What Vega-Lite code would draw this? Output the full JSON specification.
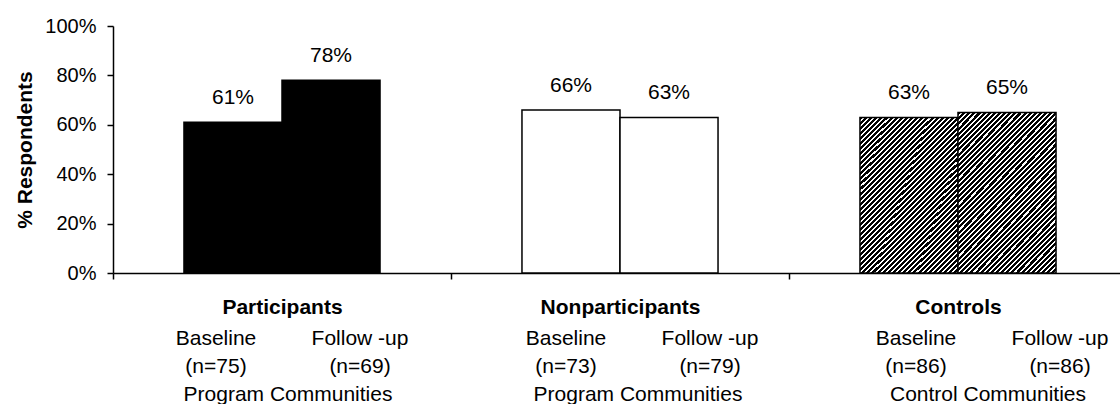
{
  "$schema": "https://vega.github.io/schema/vega-lite/v6.json",
  "autosize": {"type": "pad"},
  "padding": {"left": 14, "top": 16, "right": 0, "bottom": 0},
  "bounds": "flush",
  "spacing": 52,
  "config": {
    "font": "Liberation Sans",
    "view": {"stroke": null},
    "text": {"color": "black", "font": "Liberation Sans"},
    "axis": {
      "domainColor": "black",
      "domainWidth": 1.5,
      "tickColor": "black",
      "tickWidth": 1.5,
      "tickSize": 6,
      "labelColor": "black",
      "labelFont": "Liberation Sans",
      "titleColor": "black",
      "titleFont": "Liberation Sans",
      "grid": false
    }
  },
  "datasets": {
    "survey": [
      {"group": "Participants", "period": "Baseline", "value": 0.61, "n": 75, "community": "Program Communities"},
      {"group": "Participants", "period": "Follow -up", "value": 0.78, "n": 69, "community": "Program Communities"},
      {"group": "Nonparticipants", "period": "Baseline", "value": 0.66, "n": 73, "community": "Program Communities"},
      {"group": "Nonparticipants", "period": "Follow -up", "value": 0.63, "n": 79, "community": "Program Communities"},
      {"group": "Controls", "period": "Baseline", "value": 0.63, "n": 86, "community": "Control Communities"},
      {"group": "Controls", "period": "Follow -up", "value": 0.65, "n": 86, "community": "Control Communities"}
    ]
  },
  "resolve": {"scale": {"x": "independent", "xOffset": "independent"}},
  "vconcat": [
    {
      "width": 1014,
      "height": 247,
      "data": {"name": "survey"},
      "encoding": {
        "x": {
          "field": "group",
          "type": "nominal",
          "sort": ["Participants", "Nonparticipants", "Controls"],
          "scale": {"type": "band", "paddingInner": 0, "paddingOuter": 0},
          "axis": {
            "title": null,
            "labelAngle": 0,
            "labelFontSize": 21,
            "labelFontWeight": "bold",
            "labelPadding": 17,
            "tickBand": "extent"
          }
        },
        "xOffset": {
          "field": "period",
          "type": "nominal",
          "sort": ["Baseline", "Follow -up"],
          "scale": {"type": "band", "paddingInner": 0, "paddingOuter": 0.724}
        },
        "y": {
          "field": "value",
          "type": "quantitative",
          "scale": {"domain": [0, 1]},
          "axis": {
            "title": "% Respondents",
            "titleFontSize": 21,
            "titleFontWeight": "bold",
            "titlePadding": 9,
            "format": ".0%",
            "values": [0, 0.2, 0.4, 0.6, 0.8, 1],
            "labelFontSize": 20,
            "labelPadding": 11
          }
        }
      },
      "layer": [
        {
          "mark": {"type": "bar", "stroke": "black", "strokeWidth": 1.5},
          "encoding": {
            "fill": {
              "condition": [
                {"test": "datum.group === 'Participants'", "value": "black"},
                {"test": "datum.group === 'Nonparticipants'", "value": "white"}
              ],
              "value": {
                "gradient": "linear",
                "x1": 0, "y1": 0, "x2": 0.7256, "y2": 1.17,
                "stops": [
                  {"offset": 0, "color": "#000"}, {"offset": 0.012, "color": "#000"}, {"offset": 0.012, "color": "#fff"}, {"offset": 0.02, "color": "#fff"},
                  {"offset": 0.02, "color": "#000"}, {"offset": 0.032, "color": "#000"}, {"offset": 0.032, "color": "#fff"}, {"offset": 0.04, "color": "#fff"},
                  {"offset": 0.04, "color": "#000"}, {"offset": 0.052, "color": "#000"}, {"offset": 0.052, "color": "#fff"}, {"offset": 0.06, "color": "#fff"},
                  {"offset": 0.06, "color": "#000"}, {"offset": 0.072, "color": "#000"}, {"offset": 0.072, "color": "#fff"}, {"offset": 0.08, "color": "#fff"},
                  {"offset": 0.08, "color": "#000"}, {"offset": 0.092, "color": "#000"}, {"offset": 0.092, "color": "#fff"}, {"offset": 0.1, "color": "#fff"},
                  {"offset": 0.1, "color": "#000"}, {"offset": 0.112, "color": "#000"}, {"offset": 0.112, "color": "#fff"}, {"offset": 0.12, "color": "#fff"},
                  {"offset": 0.12, "color": "#000"}, {"offset": 0.132, "color": "#000"}, {"offset": 0.132, "color": "#fff"}, {"offset": 0.14, "color": "#fff"},
                  {"offset": 0.14, "color": "#000"}, {"offset": 0.152, "color": "#000"}, {"offset": 0.152, "color": "#fff"}, {"offset": 0.16, "color": "#fff"},
                  {"offset": 0.16, "color": "#000"}, {"offset": 0.172, "color": "#000"}, {"offset": 0.172, "color": "#fff"}, {"offset": 0.18, "color": "#fff"},
                  {"offset": 0.18, "color": "#000"}, {"offset": 0.192, "color": "#000"}, {"offset": 0.192, "color": "#fff"}, {"offset": 0.2, "color": "#fff"},
                  {"offset": 0.2, "color": "#000"}, {"offset": 0.212, "color": "#000"}, {"offset": 0.212, "color": "#fff"}, {"offset": 0.22, "color": "#fff"},
                  {"offset": 0.22, "color": "#000"}, {"offset": 0.232, "color": "#000"}, {"offset": 0.232, "color": "#fff"}, {"offset": 0.24, "color": "#fff"},
                  {"offset": 0.24, "color": "#000"}, {"offset": 0.252, "color": "#000"}, {"offset": 0.252, "color": "#fff"}, {"offset": 0.26, "color": "#fff"},
                  {"offset": 0.26, "color": "#000"}, {"offset": 0.272, "color": "#000"}, {"offset": 0.272, "color": "#fff"}, {"offset": 0.28, "color": "#fff"},
                  {"offset": 0.28, "color": "#000"}, {"offset": 0.292, "color": "#000"}, {"offset": 0.292, "color": "#fff"}, {"offset": 0.3, "color": "#fff"},
                  {"offset": 0.3, "color": "#000"}, {"offset": 0.312, "color": "#000"}, {"offset": 0.312, "color": "#fff"}, {"offset": 0.32, "color": "#fff"},
                  {"offset": 0.32, "color": "#000"}, {"offset": 0.332, "color": "#000"}, {"offset": 0.332, "color": "#fff"}, {"offset": 0.34, "color": "#fff"},
                  {"offset": 0.34, "color": "#000"}, {"offset": 0.352, "color": "#000"}, {"offset": 0.352, "color": "#fff"}, {"offset": 0.36, "color": "#fff"},
                  {"offset": 0.36, "color": "#000"}, {"offset": 0.372, "color": "#000"}, {"offset": 0.372, "color": "#fff"}, {"offset": 0.38, "color": "#fff"},
                  {"offset": 0.38, "color": "#000"}, {"offset": 0.392, "color": "#000"}, {"offset": 0.392, "color": "#fff"}, {"offset": 0.4, "color": "#fff"},
                  {"offset": 0.4, "color": "#000"}, {"offset": 0.412, "color": "#000"}, {"offset": 0.412, "color": "#fff"}, {"offset": 0.42, "color": "#fff"},
                  {"offset": 0.42, "color": "#000"}, {"offset": 0.432, "color": "#000"}, {"offset": 0.432, "color": "#fff"}, {"offset": 0.44, "color": "#fff"},
                  {"offset": 0.44, "color": "#000"}, {"offset": 0.452, "color": "#000"}, {"offset": 0.452, "color": "#fff"}, {"offset": 0.46, "color": "#fff"},
                  {"offset": 0.46, "color": "#000"}, {"offset": 0.472, "color": "#000"}, {"offset": 0.472, "color": "#fff"}, {"offset": 0.48, "color": "#fff"},
                  {"offset": 0.48, "color": "#000"}, {"offset": 0.492, "color": "#000"}, {"offset": 0.492, "color": "#fff"}, {"offset": 0.5, "color": "#fff"},
                  {"offset": 0.5, "color": "#000"}, {"offset": 0.512, "color": "#000"}, {"offset": 0.512, "color": "#fff"}, {"offset": 0.52, "color": "#fff"},
                  {"offset": 0.52, "color": "#000"}, {"offset": 0.532, "color": "#000"}, {"offset": 0.532, "color": "#fff"}, {"offset": 0.54, "color": "#fff"},
                  {"offset": 0.54, "color": "#000"}, {"offset": 0.552, "color": "#000"}, {"offset": 0.552, "color": "#fff"}, {"offset": 0.56, "color": "#fff"},
                  {"offset": 0.56, "color": "#000"}, {"offset": 0.572, "color": "#000"}, {"offset": 0.572, "color": "#fff"}, {"offset": 0.58, "color": "#fff"},
                  {"offset": 0.58, "color": "#000"}, {"offset": 0.592, "color": "#000"}, {"offset": 0.592, "color": "#fff"}, {"offset": 0.6, "color": "#fff"},
                  {"offset": 0.6, "color": "#000"}, {"offset": 0.612, "color": "#000"}, {"offset": 0.612, "color": "#fff"}, {"offset": 0.62, "color": "#fff"},
                  {"offset": 0.62, "color": "#000"}, {"offset": 0.632, "color": "#000"}, {"offset": 0.632, "color": "#fff"}, {"offset": 0.64, "color": "#fff"},
                  {"offset": 0.64, "color": "#000"}, {"offset": 0.652, "color": "#000"}, {"offset": 0.652, "color": "#fff"}, {"offset": 0.66, "color": "#fff"},
                  {"offset": 0.66, "color": "#000"}, {"offset": 0.672, "color": "#000"}, {"offset": 0.672, "color": "#fff"}, {"offset": 0.68, "color": "#fff"},
                  {"offset": 0.68, "color": "#000"}, {"offset": 0.692, "color": "#000"}, {"offset": 0.692, "color": "#fff"}, {"offset": 0.7, "color": "#fff"},
                  {"offset": 0.7, "color": "#000"}, {"offset": 0.712, "color": "#000"}, {"offset": 0.712, "color": "#fff"}, {"offset": 0.72, "color": "#fff"},
                  {"offset": 0.72, "color": "#000"}, {"offset": 0.732, "color": "#000"}, {"offset": 0.732, "color": "#fff"}, {"offset": 0.74, "color": "#fff"},
                  {"offset": 0.74, "color": "#000"}, {"offset": 0.752, "color": "#000"}, {"offset": 0.752, "color": "#fff"}, {"offset": 0.76, "color": "#fff"},
                  {"offset": 0.76, "color": "#000"}, {"offset": 0.772, "color": "#000"}, {"offset": 0.772, "color": "#fff"}, {"offset": 0.78, "color": "#fff"},
                  {"offset": 0.78, "color": "#000"}, {"offset": 0.792, "color": "#000"}, {"offset": 0.792, "color": "#fff"}, {"offset": 0.8, "color": "#fff"},
                  {"offset": 0.8, "color": "#000"}, {"offset": 0.812, "color": "#000"}, {"offset": 0.812, "color": "#fff"}, {"offset": 0.82, "color": "#fff"},
                  {"offset": 0.82, "color": "#000"}, {"offset": 0.832, "color": "#000"}, {"offset": 0.832, "color": "#fff"}, {"offset": 0.84, "color": "#fff"},
                  {"offset": 0.84, "color": "#000"}, {"offset": 0.852, "color": "#000"}, {"offset": 0.852, "color": "#fff"}, {"offset": 0.86, "color": "#fff"},
                  {"offset": 0.86, "color": "#000"}, {"offset": 0.872, "color": "#000"}, {"offset": 0.872, "color": "#fff"}, {"offset": 0.88, "color": "#fff"},
                  {"offset": 0.88, "color": "#000"}, {"offset": 0.892, "color": "#000"}, {"offset": 0.892, "color": "#fff"}, {"offset": 0.9, "color": "#fff"},
                  {"offset": 0.9, "color": "#000"}, {"offset": 0.912, "color": "#000"}, {"offset": 0.912, "color": "#fff"}, {"offset": 0.92, "color": "#fff"},
                  {"offset": 0.92, "color": "#000"}, {"offset": 0.932, "color": "#000"}, {"offset": 0.932, "color": "#fff"}, {"offset": 0.94, "color": "#fff"},
                  {"offset": 0.94, "color": "#000"}, {"offset": 0.952, "color": "#000"}, {"offset": 0.952, "color": "#fff"}, {"offset": 0.96, "color": "#fff"},
                  {"offset": 0.96, "color": "#000"}, {"offset": 0.972, "color": "#000"}, {"offset": 0.972, "color": "#fff"}, {"offset": 0.98, "color": "#fff"},
                  {"offset": 0.98, "color": "#000"}, {"offset": 0.992, "color": "#000"}, {"offset": 0.992, "color": "#fff"}, {"offset": 1, "color": "#fff"}
                ]
              }
            }
          }
        },
        {
          "mark": {"type": "text", "baseline": "alphabetic", "dy": -18, "fontSize": 21},
          "encoding": {"text": {"field": "value", "format": ".0%"}}
        }
      ]
    },
    {
      "width": 1050,
      "height": 84,
      "data": {"name": "survey"},
      "transform": [{"calculate": "'(n=' + datum.n + ')'", "as": "sample"}],
      "encoding": {
        "x": {
          "field": "group",
          "type": "nominal",
          "sort": ["Participants", "Nonparticipants", "Controls"],
          "scale": {"type": "band", "paddingInner": 0, "paddingOuter": 0},
          "axis": null
        }
      },
      "layer": [
        {
          "mark": {"type": "text", "fontSize": 21, "baseline": "middle"},
          "encoding": {
            "xOffset": {"field": "period", "type": "nominal", "sort": ["Baseline", "Follow -up"], "scale": {"type": "band", "paddingInner": 0, "paddingOuter": 0.215}},
            "y": {"datum": "period", "type": "nominal", "scale": {"type": "point", "padding": 0.5, "domain": ["period", "sample", "community"]}, "axis": null},
            "text": {"field": "period"}
          }
        },
        {
          "mark": {"type": "text", "fontSize": 21, "baseline": "middle"},
          "encoding": {
            "xOffset": {"field": "period", "type": "nominal", "sort": ["Baseline", "Follow -up"]},
            "y": {"datum": "sample", "type": "nominal", "axis": null},
            "text": {"field": "sample"}
          }
        },
        {
          "transform": [{"filter": "datum.period === 'Baseline'"}],
          "mark": {"type": "text", "fontSize": 21, "baseline": "middle"},
          "encoding": {
            "y": {"datum": "community", "type": "nominal", "axis": null},
            "text": {"field": "community"}
          }
        }
      ]
    }
  ]
}
